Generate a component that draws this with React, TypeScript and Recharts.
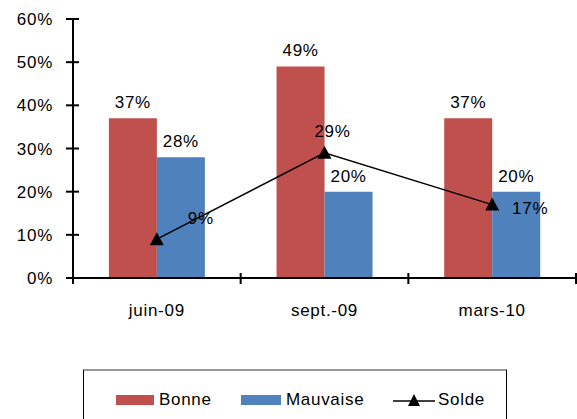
import { ComposedChart, Bar, Line, XAxis, YAxis, LabelList } from "recharts";

const categories = ["juin-09", "sept.-09", "mars-10"];
const bonne = [37, 49, 37];
const mauvaise = [28, 20, 20];
const solde = [9, 29, 17];
const yTicks = [0, 10, 20, 30, 40, 50, 60];

// where each Solde label sits, relative to its point
const soldeLabelShift = [
  { dx: 44, dy: -21 },
  { dx: 8, dy: -22 },
  { dx: 38, dy: 3 },
];

const RED = "#C0504D";
const BLUE = "#4F81BD";
const FONT = "'Liberation Sans', Arial, sans-serif";
const FS = 17;
const LS = 0.7;

const W = 577;
const H = 419;
const PLOT_LEFT = 73;
const PLOT_RIGHT = 1;
const BAND = (W - PLOT_LEFT - PLOT_RIGHT) / categories.length;

const data = categories.map((c, i) => ({
  name: c,
  bonne: bonne[i],
  mauvaise: mauvaise[i],
  solde: solde[i],
}));

const YTick = ({ x, y, payload }: any) => (
  <g>
    <line x1={x - 7} x2={x + 6} y1={y} y2={y} stroke="#000" strokeWidth={2} />
    <text x={x - 20} y={y} dy={6} textAnchor="end" fontSize={FS} letterSpacing={LS} fill="#000" fontFamily={FONT}>
      {payload.value}%
    </text>
  </g>
);

const XTick = ({ x, y, payload, index }: any) => (
  <g>
    <line x1={x - BAND / 2} x2={x - BAND / 2} y1={y - 5} y2={y + 6} stroke="#000" strokeWidth={2} />
    {index === categories.length - 1 && (
      <line x1={x + BAND / 2} x2={x + BAND / 2} y1={y - 5} y2={y + 6} stroke="#000" strokeWidth={2} />
    )}
    <text x={x} y={y} dy={38} textAnchor="middle" fontSize={FS} letterSpacing={LS} fill="#000" fontFamily={FONT}>
      {payload.value}
    </text>
  </g>
);

const Triangle = ({ cx, cy }: any) => {
  if (cx == null || cy == null) return null;
  return <path d={`M${cx},${cy - 7} L${cx + 7},${cy + 6} L${cx - 7},${cy + 6} Z`} fill="#000" />;
};

const SoldeLabel = ({ x, y, value, index }: any) => {
  const s = soldeLabelShift[index] || { dx: 0, dy: -15 };
  return (
    <text x={x + s.dx} y={y + s.dy} dy={6} textAnchor="middle" fontSize={FS} letterSpacing={LS} fill="#000" fontFamily={FONT}>
      {value}%
    </text>
  );
};

const labelStyle = { fontSize: FS, fill: "#000", fontFamily: FONT, letterSpacing: LS };

function LegendBox() {
  const item = (left: number) =>
    ({ position: "absolute", left, top: 17, display: "flex", alignItems: "center", gap: 5, height: 24 } as const);
  return (
    <div
      style={{
        position: "absolute",
        left: 83,
        top: 369,
        width: 424,
        height: 60,
        boxSizing: "border-box",
        borderLeft: "1px solid #000",
        borderRight: "1px solid #000",
        borderTop: "2px solid #999",
        fontFamily: FONT,
        fontSize: FS,
        letterSpacing: LS,
        color: "#000",
      }}
    >
      <div style={item(32)}>
        <div style={{ width: 38, height: 10, background: RED }} />
        <span>Bonne</span>
      </div>
      <div style={item(157)}>
        <div style={{ width: 40, height: 10, background: BLUE }} />
        <span>Mauvaise</span>
      </div>
      <div style={{ ...item(309), gap: 3 }}>
        <svg width={42} height={14}>
          <line x1={0} x2={42} y1={8} y2={8} stroke="#000" strokeWidth={1.5} />
          <path d="M21,1 L27,13 L15,13 Z" fill="#000" />
        </svg>
        <span>Solde</span>
      </div>
    </div>
  );
}

export default function App() {
  return (
    <div style={{ position: "absolute", left: 0, top: 0, width: W, height: H, background: "#fff", overflow: "hidden" }}>
      <ComposedChart
        width={W}
        height={H}
        data={data}
        margin={{ top: 19, right: PLOT_RIGHT, left: 0, bottom: 101 }}
        barCategoryGap="21.4%"
        barGap={0}
      >
        <XAxis
          dataKey="name"
          height={40}
          tickLine={false}
          tickSize={0}
          tickMargin={0}
          axisLine={{ stroke: "#000", strokeWidth: 2 }}
          tick={<XTick />}
          interval={0}
        />
        <YAxis
          width={PLOT_LEFT}
          domain={[0, 60]}
          ticks={yTicks}
          interval={0}
          tickLine={false}
          tickSize={0}
          tickMargin={0}
          axisLine={{ stroke: "#000", strokeWidth: 2 }}
          tick={<YTick />}
        />
        <Bar dataKey="bonne" fill={RED} isAnimationActive={false}>
          <LabelList dataKey="bonne" position="top" offset={10} formatter={(v: any) => `${v}%`} style={labelStyle} />
        </Bar>
        <Bar dataKey="mauvaise" fill={BLUE} isAnimationActive={false}>
          <LabelList dataKey="mauvaise" position="top" offset={10} formatter={(v: any) => `${v}%`} style={labelStyle} />
        </Bar>
        <Line
          dataKey="solde"
          stroke="#000"
          strokeWidth={1.5}
          dot={<Triangle />}
          activeDot={false}
          isAnimationActive={false}
        >
          <LabelList dataKey="solde" content={<SoldeLabel />} />
        </Line>
      </ComposedChart>
      <LegendBox />
    </div>
  );
}
